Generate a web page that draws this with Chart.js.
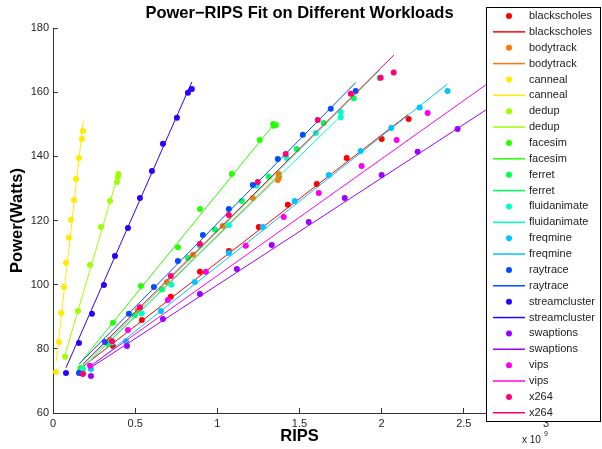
<!DOCTYPE html>
<html>
<head>
<meta charset="utf-8">
<script src="https://cdn.jsdelivr.net/npm/chart.js@4"></script>
<style>
  html, body { margin: 0; padding: 0; background: #fff; }
  #wrap { width: 602px; height: 449px; }
</style>
</head>
<body>
<div id="wrap"><canvas id="myChart" width="602" height="449"></canvas></div>
<script>
// 1. DATOS (RIPS en unidades de 1e9, potencia en vatios)

const workloads = ["blackscholes", "bodytrack", "canneal", "dedup", "facesim", "ferret",
  "fluidanimate", "freqmine", "raytrace", "streamcluster", "swaptions", "vips", "x264"];

const xTicks = [0, 0.5, 1, 1.5, 2, 2.5, 3];
const yTicks = [60, 80, 100, 120, 140, 160, 180];

const blackscholesX = [0.18, 0.365, 0.541, 0.717, 0.894, 1.070, 1.252, 1.429, 1.605, 1.787, 2.000, 2.164];
const blackscholesY = [72.2, 80.9, 89.0, 96.2, 104.0, 110.5, 118.0, 124.9, 131.4, 139.5, 145.4, 151.6];
const blackscholesFitX = [0.18, 2.16];
const blackscholesFitY = [74.4, 153.0];

const bodytrackX = [0.164, 0.347, 0.517, 0.693, 0.851, 1.033, 1.216, 1.368, 1.374, 1.374, 1.374];
const bodytrackY = [73.1, 82.8, 92.1, 100.8, 109.3, 118.3, 127.0, 132.6, 133.3, 133.9, 134.5];
const bodytrackFitX = [0.16, 1.38];
const bodytrackFitY = [73.0, 134.5];

const cannealX = [0.018, 0.036, 0.049, 0.067, 0.079, 0.097, 0.109, 0.128, 0.140, 0.158, 0.176, 0.182];
const cannealY = [72.8, 82.1, 91.2, 99.3, 106.8, 114.6, 120.2, 126.4, 132.9, 139.5, 145.4, 147.9];
const cannealFitX = [0.02, 0.184];
const cannealFitY = [76.2, 151.1];

const dedupX = [0.073, 0.152, 0.225, 0.292, 0.347, 0.389, 0.395, 0.398];
const dedupY = [77.5, 91.8, 106.1, 118.0, 126.1, 132.0, 133.6, 134.5];
const dedupFitX = [0.067, 0.40];
const dedupFitY = [77.1, 135.0];

const facesimX = [0.168, 0.365, 0.535, 0.760, 0.894, 1.088, 1.258, 1.340, 1.343, 1.356];
const facesimY = [74.0, 88.1, 99.6, 111.7, 123.6, 134.5, 145.1, 150.1, 149.5, 149.8];
const facesimFitX = [0.168, 1.352];
const facesimFitY = [75.8, 150.5];

const ferretX = [0.17, 0.334, 0.498, 0.663, 0.821, 0.985, 1.149, 1.313, 1.483, 1.647, 1.830, 1.988];
const ferretY = [73.5, 81.5, 90.5, 98.5, 108.3, 117.2, 126.1, 133.6, 142.3, 150.4, 158.1, 164.4];
const ferretFitX = [0.17, 1.99];
const ferretFitY = [74.2, 167.0];

const fluidanimateX = [0.182, 0.36, 0.54, 0.72, 0.894, 1.07, 1.24, 1.422, 1.599, 1.751, 1.751];
const fluidanimateY = [73.7, 82.0, 91.0, 100.0, 112.1, 118.5, 130.8, 139.5, 147.3, 152.2, 153.8];
const fluidanimateFitX = [0.18, 1.75];
const fluidanimateFitY = [74.0, 152.5];

const freqmineX = [0.231, 0.444, 0.657, 0.863, 1.070, 1.277, 1.471, 1.678, 1.872, 2.058, 2.231, 2.401];
const freqmineY = [73.7, 82.4, 91.8, 100.8, 109.9, 118.0, 126.1, 134.2, 141.7, 148.8, 155.2, 160.4];
const freqmineFitX = [0.23, 2.40];
const freqmineFitY = [74.5, 162.5];

const raytraceX = [0.158, 0.316, 0.462, 0.614, 0.760, 0.912, 1.070, 1.216, 1.368, 1.520, 1.690, 1.842];
const raytraceY = [72.5, 82.1, 90.9, 99.3, 107.4, 115.5, 123.6, 131.1, 139.2, 146.7, 154.8, 160.4];
const raytraceFitX = [0.158, 1.842];
const raytraceFitY = [75.2, 163.0];

const streamclusterX = [0.079, 0.158, 0.237, 0.310, 0.377, 0.456, 0.529, 0.602, 0.669, 0.754, 0.821, 0.845];
const streamclusterY = [72.5, 81.8, 90.9, 99.9, 108.9, 117.7, 127.0, 135.4, 143.9, 152.0, 159.8, 161.0];
const streamclusterFitX = [0.079, 0.845];
const streamclusterFitY = [74.1, 163.2];

const swaptionsX = [0.231, 0.450, 0.669, 0.894, 1.119, 1.331, 1.556, 1.775, 2.000, 2.219, 2.462];
const swaptionsY = [71.5, 80.9, 89.3, 97.1, 104.9, 112.4, 119.5, 127.0, 134.2, 141.4, 148.5];
const swaptionsFitX = [0.231, 2.95];
const swaptionsFitY = [74.2, 165.0];

const vipsX = [0.225, 0.456, 0.699, 0.930, 1.173, 1.404, 1.617, 1.878, 2.091, 2.280];
const vipsY = [74.7, 85.9, 95.2, 104.0, 112.1, 121.1, 128.6, 137.0, 145.1, 153.5];
const vipsFitX = [0.225, 2.95];
const vipsFitY = [74.6, 173.8];

const x264X = [0.182, 0.359, 0.529, 0.717, 0.894, 1.070, 1.246, 1.416, 1.611, 1.812, 1.994, 2.073];
const x264Y = [72.2, 82.4, 93.0, 102.7, 112.7, 121.7, 132.0, 140.7, 151.3, 159.5, 164.5, 166.1];
const x264FitX = [0.182, 2.075];
const x264FitY = [75.3, 171.6];

// colores tipo hsv(13)
const colores = ["#ff0000", "#ff7600", "#ffeb00", "#9dff00", "#27ff00", "#00ff4e", "#00ffc4",
  "#00c4ff", "#004eff", "#2700ff", "#9d00ff", "#ff00eb", "#ff0076"];

const puntos = [
  [blackscholesX, blackscholesY], [bodytrackX, bodytrackY], [cannealX, cannealY],
  [dedupX, dedupY], [facesimX, facesimY], [ferretX, ferretY],
  [fluidanimateX, fluidanimateY], [freqmineX, freqmineY], [raytraceX, raytraceY],
  [streamclusterX, streamclusterY], [swaptionsX, swaptionsY], [vipsX, vipsY], [x264X, x264Y]
];
const ajustes = [
  [blackscholesFitX, blackscholesFitY], [bodytrackFitX, bodytrackFitY], [cannealFitX, cannealFitY],
  [dedupFitX, dedupFitY], [facesimFitX, facesimFitY], [ferretFitX, ferretFitY],
  [fluidanimateFitX, fluidanimateFitY], [freqmineFitX, freqmineFitY], [raytraceFitX, raytraceFitY],
  [streamclusterFitX, streamclusterFitY], [swaptionsFitX, swaptionsFitY], [vipsFitX, vipsFitY],
  [x264FitX, x264FitY]
];

function toXY(par) {
  return par[0].map((x, i) => ({ x: x, y: par[1][i] }));
}

// 2. DATASETS

const datasets = [];
workloads.forEach((nombre, i) => {
  datasets.push({
    label: nombre,
    data: toXY(puntos[i]),
    showLine: false,
    pointRadius: 3,
    pointHoverRadius: 3,
    pointBorderWidth: 0,
    pointBackgroundColor: colores[i],
    backgroundColor: colores[i],
    order: -(2 * i)
  });
  datasets.push({
    label: nombre,
    data: toXY(ajustes[i]),
    showLine: true,
    borderColor: colores[i],
    borderWidth: 1,
    pointRadius: 0,
    order: -(2 * i + 1)
  });
});

// 3. TEXTOS Y LEYENDA (estilo MATLAB, encima del área del gráfico)

const FONT = "'Liberation Sans', Arial, Helvetica, sans-serif";

const extras = {
  id: "extras",
  afterDraw(chart) {
    const ctx = chart.ctx;
    const area = chart.chartArea;
    ctx.save();

    // título
    ctx.fillStyle = "#000";
    ctx.font = "bold 16.5px " + FONT;
    ctx.textAlign = "center";
    ctx.textBaseline = "middle";
    ctx.fillText("Power\u2212RIPS Fit on Different Workloads", (area.left + area.right) / 2, 13.5);

    // exponente del eje x
    ctx.fillStyle = "#222";
    ctx.font = "10px " + FONT;
    ctx.textAlign = "left";
    ctx.fillText("x 10", 522, 440);
    ctx.font = "7px " + FONT;
    ctx.fillText("9", 544, 434);

    // leyenda
    const lx = 486, ly = 7, lw = 115, lh = 415;
    ctx.fillStyle = "#fff";
    ctx.fillRect(lx, ly, lw, lh);
    ctx.strokeStyle = "#000";
    ctx.lineWidth = 1;
    ctx.strokeRect(lx + 0.5, ly + 0.5, lw - 1, lh - 1);

    ctx.font = "11px " + FONT;
    ctx.textBaseline = "middle";
    const paso = 15.87;
    workloads.forEach((nombre, i) => {
      const y1 = 16 + (2 * i) * paso;
      const y2 = 16 + (2 * i + 1) * paso;
      ctx.fillStyle = colores[i];
      ctx.beginPath();
      ctx.arc(509, y1, 3, 0, Math.PI * 2);
      ctx.fill();
      ctx.strokeStyle = colores[i];
      ctx.lineWidth = 1.5;
      ctx.beginPath();
      ctx.moveTo(493, y2);
      ctx.lineTo(525, y2);
      ctx.stroke();
      ctx.fillStyle = "#222";
      ctx.fillText(nombre, 529, y1);
      ctx.fillText(nombre, 529, y2);
    });
    ctx.restore();
  }
};

// 4. GRÁFICO

const config = {
  type: "scatter",
  data: { datasets: datasets },
  options: {
    responsive: false,
    animation: false,
    devicePixelRatio: 1,
    layout: { padding: { top: 28, right: 56, left: 0, bottom: 0 } },
    plugins: {
      legend: { display: false },
      title: { display: false },
      tooltip: { enabled: false }
    },
    scales: {
      x: {
        type: "linear",
        min: 0,
        max: 3,
        afterBuildTicks: (s) => { s.ticks = xTicks.map(v => ({ value: v })); },
        afterFit: (s) => { s.height = 36; },
        ticks: {
          autoSkip: false,
          maxRotation: 0,
          padding: 9,
          color: "#262626",
          font: { family: FONT, size: 11 },
          callback: (v) => String(v)
        },
        grid: { drawOnChartArea: false, tickLength: -5, color: "#333" },
        border: { color: "#333", width: 1 },
        title: {
          display: true,
          text: "RIPS",
          color: "#000",
          font: { family: FONT, size: 16.5, weight: "bold" },
          padding: { top: 0, bottom: 3 }
        }
      },
      y: {
        min: 60,
        max: 180,
        afterBuildTicks: (s) => { s.ticks = yTicks.map(v => ({ value: v })); },
        afterFit: (s) => { s.width = 53; },
        ticks: {
          padding: 9,
          color: "#262626",
          font: { family: FONT, size: 11 }
        },
        grid: { drawOnChartArea: false, tickLength: -5, color: "#333" },
        border: { color: "#333", width: 1 },
        title: {
          display: true,
          text: "Power(Watts)",
          color: "#000",
          font: { family: FONT, size: 16.5, weight: "bold" },
          padding: { top: 8, bottom: 0 }
        }
      }
    }
  },
  plugins: [extras]
};

const chart = new Chart(document.getElementById("myChart"), config);
</script>
</body>
</html>
